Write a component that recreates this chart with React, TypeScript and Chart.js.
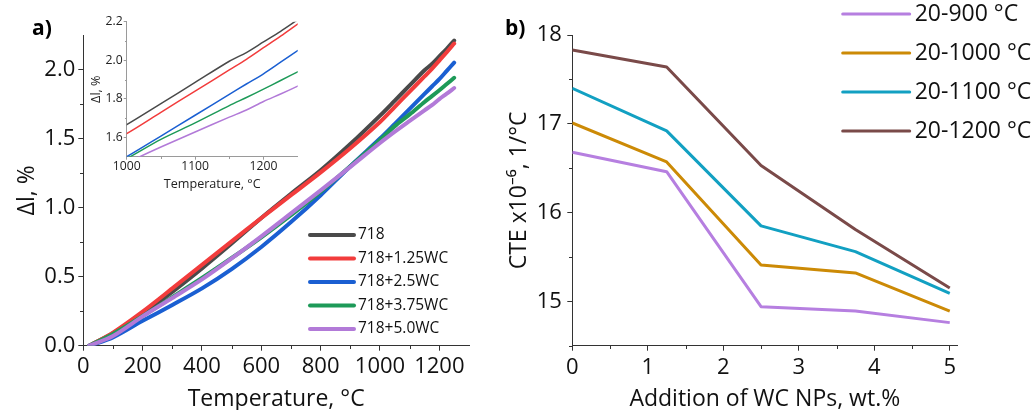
import React, { useEffect, useRef } from "react";
import { Chart, registerables } from "chart.js";

Chart.register(...registerables);

const FONT = "'Open Sans', 'Noto Sans', sans-serif";

// ---------- Panel a) data ----------
const TEMPS = [20, 100, 200, 300, 400, 500, 600, 700, 800, 900, 1000, 1050, 1100, 1150, 1175, 1200, 1225, 1250];
const DL_718 = [0, 0.09, 0.232, 0.39, 0.56, 0.74, 0.925, 1.1, 1.27, 1.46, 1.666, 1.775, 1.885, 1.995, 2.04, 2.095, 2.15, 2.21];
const DL_718_125 = [0, 0.095, 0.247, 0.415, 0.585, 0.755, 0.925, 1.09, 1.255, 1.43, 1.62, 1.73, 1.84, 1.95, 2.005, 2.065, 2.125, 2.188];
const DL_718_25 = [0, 0.06, 0.18, 0.295, 0.415, 0.555, 0.715, 0.895, 1.09, 1.3, 1.5, 1.607, 1.715, 1.823, 1.877, 1.93, 1.99, 2.05];
const DL_718_375 = [0, 0.085, 0.215, 0.352, 0.49, 0.635, 0.785, 0.945, 1.115, 1.3, 1.49, 1.59, 1.675, 1.765, 1.807, 1.85, 1.895, 1.94];
const DL_718_50 = [0, 0.07, 0.212, 0.345, 0.48, 0.632, 0.792, 0.958, 1.125, 1.295, 1.468, 1.55, 1.628, 1.705, 1.742, 1.786, 1.825, 1.866];

const A_LABELS = ["718", "718+1.25WC", "718+2.5WC", "718+3.75WC", "718+5.0WC"];
const A_COLORS = ["#4a4a4a", "#f23c3c", "#1a5fd2", "#1d9a58", "#b27ad8"];
const A_SERIES = [DL_718, DL_718_125, DL_718_25, DL_718_375, DL_718_50];

const A_X_TICKS = [0, 200, 400, 600, 800, 1000, 1200];
const A_X_MINOR = [100, 300, 500, 700, 900, 1100];
const A_Y_TICKS = [0, 0.5, 1.0, 1.5, 2.0];
const A_Y_MINOR = [0.25, 0.75, 1.25, 1.75];

const IN_X_TICKS = [1000, 1100, 1200];
const IN_X_MINOR = [1050, 1150];
const IN_Y_TICKS = [1.6, 1.8, 2.0, 2.2];
const IN_Y_MINOR = [1.7, 1.9, 2.1];

// ---------- Panel b) data ----------
const WC_ADD = [0, 1.25, 2.5, 3.75, 5];
const CTE_900 = [16.68, 16.46, 14.94, 14.89, 14.76];
const CTE_1000 = [17.01, 16.57, 15.41, 15.32, 14.89];
const CTE_1100 = [17.4, 16.92, 15.85, 15.56, 15.09];
const CTE_1200 = [17.83, 17.64, 16.53, 15.81, 15.15];

const B_LABELS = ["20-900 °C", "20-1000 °C", "20-1100 °C", "20-1200 °C"];
const B_COLORS = ["#b67fe0", "#cc8a06", "#12a0c2", "#7a4a49"];
const B_SERIES = [CTE_900, CTE_1000, CTE_1100, CTE_1200];

const B_X_TICKS = [0, 1, 2, 3, 4, 5];
const B_X_MINOR = [0.5, 1.5, 2.5, 3.5, 4.5];
const B_Y_TICKS = [15, 16, 17, 18];
const B_Y_MINOR = [14.5, 15.5, 16.5, 17.5];

type AxisSpec = {
  min: number;
  max: number;
  ticks: number[];
  fmt: (v: number) => string;
  size: number;
  horizontal: boolean;
  title: string;
  titleSize: number;
  titlePad: { top: number; bottom: number };
  tickLen: number;
  tickPad: number;
  tickFont: number;
  color: string;
  textColor: string;
};

function makeAxis(s: AxisSpec): any {
  return {
    type: "linear",
    min: s.min,
    max: s.max,
    border: { display: true, color: s.color, width: 1 },
    grid: {
      display: true,
      drawOnChartArea: false,
      drawTicks: true,
      tickLength: s.tickLen,
      tickWidth: 1,
      tickColor: s.color,
    },
    ticks: {
      autoSkip: false,
      maxRotation: 0,
      minRotation: 0,
      includeBounds: false,
      padding: s.tickPad,
      color: s.textColor,
      font: { family: FONT, size: s.tickFont },
      callback: (v: any) => s.fmt(Number(v)),
    },
    afterBuildTicks: (scale: any) => {
      scale.ticks = s.ticks.map((v) => ({ value: v }));
    },
    afterFit: (scale: any) => {
      if (s.horizontal) scale.height = s.size;
      else scale.width = s.size;
    },
    title: {
      display: true,
      text: s.title,
      color: s.textColor,
      font: { family: FONT, size: s.titleSize, lineHeight: 1 },
      padding: s.titlePad,
    },
  };
}

function minorTicks(cfg: { x: number[]; y: number[]; len: number; color: string }) {
  return {
    id: "minorTicks",
    afterDraw(chart: any) {
      const ctx = chart.ctx;
      ctx.save();
      ctx.strokeStyle = cfg.color;
      ctx.lineWidth = 1;
      ctx.beginPath();
      const xs = chart.scales.x;
      const ys = chart.scales.y;
      cfg.x.forEach((v) => {
        const p = Math.round(xs.getPixelForValue(v)) + 0.5;
        const top = Math.round(xs.top);
        ctx.moveTo(p, top);
        ctx.lineTo(p, top + cfg.len);
      });
      cfg.y.forEach((v) => {
        const p = Math.round(ys.getPixelForValue(v)) + 0.5;
        const right = Math.round(ys.right);
        ctx.moveTo(right, p);
        ctx.lineTo(right - cfg.len, p);
      });
      ctx.stroke();
      ctx.restore();
    },
  };
}

function customLegend(cfg: {
  x: number;
  y: number;
  rowH: number;
  lineLen: number;
  gap: number;
  fontSize: number;
  lineWidth: number;
}) {
  return {
    id: "customLegend",
    afterDraw(chart: any) {
      const ctx = chart.ctx;
      ctx.save();
      ctx.font = `${cfg.fontSize}px ${FONT}`;
      ctx.textBaseline = "middle";
      ctx.textAlign = "left";
      chart.data.datasets.forEach((ds: any, i: number) => {
        const y = cfg.y + i * cfg.rowH;
        ctx.strokeStyle = ds.borderColor;
        ctx.lineWidth = cfg.lineWidth;
        ctx.lineCap = "round";
        ctx.beginPath();
        ctx.moveTo(cfg.x, y);
        ctx.lineTo(cfg.x + cfg.lineLen, y);
        ctx.stroke();
        ctx.fillStyle = "#111";
        ctx.fillText(ds.label, cfg.x + cfg.lineLen + cfg.gap, y);
      });
      ctx.restore();
    },
  };
}

function panelLabel(text: string, x: number, y: number) {
  return {
    id: "panelLabel",
    afterDraw(chart: any) {
      const ctx = chart.ctx;
      ctx.save();
      ctx.font = `bold 21px ${FONT}`;
      ctx.fillStyle = "#000";
      ctx.textBaseline = "alphabetic";
      ctx.textAlign = "left";
      ctx.fillText(text, x, y);
      ctx.restore();
    },
  };
}

export default function App() {
  const aRef = useRef<HTMLCanvasElement>(null);
  const inRef = useRef<HTMLCanvasElement>(null);
  const bRef = useRef<HTMLCanvasElement>(null);

  useEffect(() => {
    document.body.style.margin = "0";
    const charts: Chart[] = [];

    const aDatasets = (width: number) =>
      A_SERIES.map((ser, i) => ({
        label: A_LABELS[i],
        data: TEMPS.map((t, k) => ({ x: t, y: ser[k] })),
        borderColor: A_COLORS[i],
        backgroundColor: A_COLORS[i],
        borderWidth: width,
        pointRadius: 0,
        tension: 0.3,
        borderCapStyle: "round",
        order: A_SERIES.length - 1 - i,
      }));

    // Panel a main chart
    charts.push(
      new Chart(aRef.current!, {
        type: "line",
        data: { datasets: aDatasets(4) as any },
        options: {
          responsive: false,
          animation: false,
          devicePixelRatio: 1,
          layout: { padding: { left: 0, top: 35, right: 11, bottom: 0 } },
          plugins: { legend: { display: false }, tooltip: { enabled: false } },
          scales: {
            x: makeAxis({
              min: 0, max: 1300, ticks: A_X_TICKS, fmt: (v) => String(v),
              size: 64.3, horizontal: true, title: "Temperature, °C", titleSize: 23,
              titlePad: { top: 0, bottom: -1 }, tickLen: 5, tickPad: 2.8, tickFont: 22,
              color: "#333", textColor: "#111",
            }),
            y: makeAxis({
              min: 0, max: 2.25, ticks: A_Y_TICKS, fmt: (v) => v.toFixed(1),
              size: 83.3, horizontal: false, title: "Δl, %", titleSize: 23,
              titlePad: { top: 15.5, bottom: 0 }, tickLen: 5, tickPad: 3, tickFont: 22,
              color: "#333", textColor: "#111",
            }),
          },
        } as any,
        plugins: [
          minorTicks({ x: A_X_MINOR, y: A_Y_MINOR, len: 3, color: "#333" }),
          customLegend({ x: 310, y: 235, rowH: 23.5, lineLen: 44, gap: 4, fontSize: 15.5, lineWidth: 4 }),
          panelLabel("a)", 32, 35),
        ],
      })
    );

    // Inset chart
    charts.push(
      new Chart(inRef.current!, {
        type: "line",
        data: { datasets: aDatasets(1.5) as any },
        options: {
          responsive: false,
          animation: false,
          devicePixelRatio: 1,
          layout: { padding: { left: 0, top: 21.7, right: 12.3, bottom: 0 } },
          plugins: { legend: { display: false }, tooltip: { enabled: false } },
          scales: {
            x: makeAxis({
              min: 1000, max: 1250, ticks: IN_X_TICKS, fmt: (v) => String(v),
              size: 43.3, horizontal: true, title: "Temperature, °C", titleSize: 12.6,
              titlePad: { top: 0, bottom: 9.2 }, tickLen: 3, tickPad: 0, tickFont: 12.2,
              color: "#9a9a9a", textColor: "#222",
            }),
            y: makeAxis({
              min: 1.5, max: 2.2, ticks: IN_Y_TICKS, fmt: (v) => v.toFixed(1),
              size: 66.7, horizontal: false, title: "Δl, %", titleSize: 12.6,
              titlePad: { top: 29.7, bottom: 0 }, tickLen: 3, tickPad: 1, tickFont: 12.2,
              color: "#9a9a9a", textColor: "#222",
            }),
          },
        } as any,
        plugins: [minorTicks({ x: IN_X_MINOR, y: IN_Y_MINOR, len: 2, color: "#9a9a9a" })],
      })
    );

    // Panel b chart
    charts.push(
      new Chart(bRef.current!, {
        type: "line",
        data: {
          datasets: B_SERIES.map((ser, i) => ({
            label: B_LABELS[i],
            data: WC_ADD.map((w, k) => ({ x: w, y: ser[k] })),
            borderColor: B_COLORS[i],
            backgroundColor: B_COLORS[i],
            borderWidth: 3,
            pointRadius: 0,
            tension: 0,
            borderJoinStyle: "round",
          })) as any,
        },
        options: {
          responsive: false,
          animation: false,
          devicePixelRatio: 1,
          layout: { padding: { left: 0, top: 35, right: 77.7, bottom: 0 } },
          plugins: { legend: { display: false }, tooltip: { enabled: false } },
          scales: {
            x: makeAxis({
              min: 0, max: 5.1, ticks: B_X_TICKS, fmt: (v) => String(v),
              size: 64.3, horizontal: true, title: "Addition of WC NPs, wt.%", titleSize: 23,
              titlePad: { top: 0, bottom: -1 }, tickLen: 5, tickPad: 3.6, tickFont: 22,
              color: "#333", textColor: "#111",
            }),
            y: makeAxis({
              min: 14.5, max: 18, ticks: B_Y_TICKS, fmt: (v) => String(v),
              size: 92.3, horizontal: false, title: "CTE x10⁻⁶, 1/°C", titleSize: 23,
              titlePad: { top: 27.5, bottom: 0 }, tickLen: 5, tickPad: 5.5, tickFont: 22,
              color: "#333", textColor: "#111",
            }),
          },
        } as any,
        plugins: [
          minorTicks({ x: B_X_MINOR, y: B_Y_MINOR, len: 3, color: "#333" }),
          customLegend({ x: 362.7, y: 14, rowH: 39, lineLen: 67, gap: 5, fontSize: 23, lineWidth: 3 }),
          panelLabel("b)", 25, 35),
        ],
      })
    );

    return () => charts.forEach((c) => c.destroy());
  }, []);

  return (
    <div
      style={{
        position: "absolute",
        left: 0,
        top: 0,
        width: 1035,
        height: 410,
        background: "#fff",
        overflow: "hidden",
      }}
    >
      <canvas ref={aRef} width={480} height={410} style={{ position: "absolute", left: 0, top: 0, width: 480, height: 410 }} />
      <canvas ref={inRef} width={250} height={200} style={{ position: "absolute", left: 60, top: 0, width: 250, height: 200 }} />
      <canvas ref={bRef} width={555} height={410} style={{ position: "absolute", left: 480, top: 0, width: 555, height: 410 }} />
    </div>
  );
}
